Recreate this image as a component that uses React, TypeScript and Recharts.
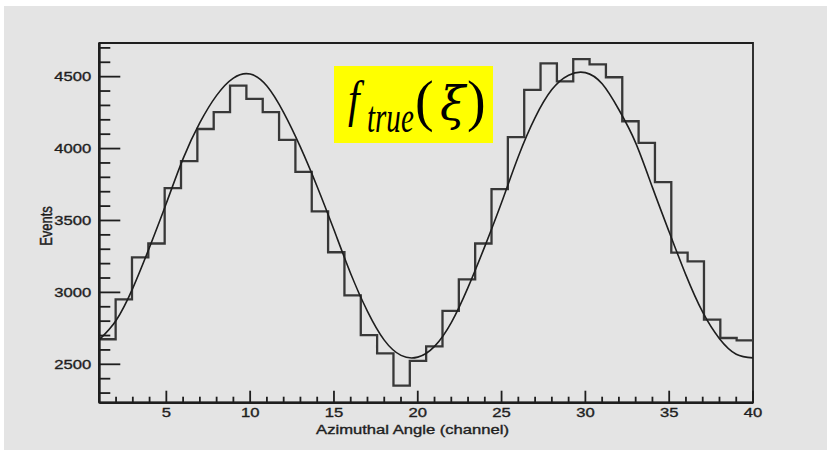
import React from 'react';
import { LineChart, Line, XAxis, YAxis, ReferenceArea } from 'recharts';

// Events per azimuthal channel: 40 equal-width bins spanning the 1–40 axis
const binCounts = [
  2674, 2951, 3243, 3340, 3725, 3912, 4136, 4253, 4438, 4345,
  4253, 4060, 3838, 3563, 3279, 2979, 2703, 2576, 2352, 2524,
  2625, 2871, 3090, 3340, 3718, 4079, 4408, 4593, 4467, 4622,
  4586, 4496, 4190, 4040, 3766, 3277, 3215, 2810, 2683, 2666,
];

// Fitted f_true(ξ) curve, sampled at every channel
const fitChannels = [
  1, 2, 3, 4, 5, 6, 7, 8, 9, 10,
  11, 12, 13, 14, 15, 16, 17, 18, 19, 20,
  21, 22, 23, 24, 25, 26, 27, 28, 29, 30,
  31, 32, 33, 34, 35, 36, 37, 38, 39, 40,
];
const fitValues = [
  2672, 2805, 3030, 3315, 3620, 3930, 4180, 4370, 4490, 4518,
  4435, 4250, 4010, 3735, 3435, 3130, 2868, 2668, 2562, 2550,
  2625, 2790, 3035, 3320, 3625, 3945, 4215, 4410, 4510, 4528,
  4450, 4270, 4040, 3730, 3420, 3120, 2862, 2678, 2570, 2545,
];

// Labelled axis ticks
const xTickLabels = [5, 10, 15, 20, 25, 30, 35, 40];
const yTickLabels = [2500, 3000, 3500, 4000, 4500];

const X_MIN = 1;
const X_MAX = 40;
const Y_MIN = 2233;
const Y_MAX = 4734;
const X_MINOR_STEP = 1;
const Y_MINOR_STEP = 100;

// Layout
const W = 831;
const H = 467;
const MARGIN = { top: 43, right: 78, bottom: 34.3, left: 39.3 };
const Y_AXIS_W = 60;
const X_AXIS_H = 30;
const PLOT_LEFT = MARGIN.left + Y_AXIS_W;
const PLOT_BOTTOM = H - MARGIN.bottom - X_AXIS_H;
const STRETCH = 1.33; // wide text face
const INK = '#1e1e1e';
const FONT = '"Liberation Sans", Arial, sans-serif';
const SERIF = '"Liberation Serif", "Times New Roman", serif';

const binWidth = (X_MAX - X_MIN) / binCounts.length;
const histData = binCounts
  .map((v, i) => ({ x: X_MIN + i * binWidth, y: v }))
  .concat([{ x: X_MAX, y: binCounts[binCounts.length - 1] }]);
const fitData = fitChannels.map((x, i) => ({ x, y: fitValues[i] }));

const xTicks: number[] = [];
for (let v = X_MIN + X_MINOR_STEP; v <= X_MAX; v += X_MINOR_STEP) xTicks.push(v);
const yTicks: number[] = [];
for (let v = Math.ceil(Y_MIN / Y_MINOR_STEP) * Y_MINOR_STEP; v <= Y_MAX; v += Y_MINOR_STEP) yTicks.push(v);

const labelStyle = {
  fontFamily: FONT,
  fontSize: 12.5,
  fill: INK,
  stroke: INK,
  strokeWidth: 0.35,
};

const XTick = (props: any) => {
  const { x, payload } = props;
  const v = payload.value;
  const major = xTickLabels.includes(v);
  return (
    <g>
      <line x1={x} x2={x} y1={PLOT_BOTTOM} y2={PLOT_BOTTOM - (major ? 12 : 6)} stroke={INK} strokeWidth={1.8} />
      {major && (
        <text
          transform={`translate(${x},${PLOT_BOTTOM + 14}) scale(${STRETCH},1)`}
          textAnchor="middle"
          {...labelStyle}
        >
          {v}
        </text>
      )}
    </g>
  );
};

const YTick = (props: any) => {
  const { y, payload } = props;
  const v = payload.value;
  const major = yTickLabels.includes(v);
  return (
    <g>
      <line x1={PLOT_LEFT} x2={PLOT_LEFT + (major ? 21 : 11)} y1={y} y2={y} stroke={INK} strokeWidth={1.8} />
      {major && (
        <text
          transform={`translate(${PLOT_LEFT - 8},${y + 4.5}) scale(${STRETCH},1)`}
          textAnchor="end"
          {...labelStyle}
        >
          {v}
        </text>
      )}
    </g>
  );
};

export default function App() {
  return (
    <div style={{ position: 'absolute', left: 0, top: 0, width: W, height: H, background: '#fff' }}>
      <div style={{ position: 'absolute', left: 4, top: 6, width: 823, height: 444, background: '#e4e4e4' }} />
      <div style={{ position: 'absolute', left: 0, top: 0 }}>
        <LineChart width={W} height={H} margin={MARGIN}>
          <XAxis
            type="number"
            dataKey="x"
            domain={[X_MIN, X_MAX]}
            ticks={xTicks}
            interval={0}
            tickLine={false}
            tick={(p: any) => <XTick {...p} />}
            height={X_AXIS_H}
            axisLine={{ stroke: INK, strokeWidth: 2.6 }}
            allowDataOverflow
          />
          <YAxis
            type="number"
            domain={[Y_MIN, Y_MAX]}
            ticks={yTicks}
            interval={0}
            tickLine={false}
            tick={(p: any) => <YTick {...p} />}
            width={Y_AXIS_W}
            axisLine={{ stroke: INK, strokeWidth: 2.6 }}
            allowDataOverflow
          />
          <ReferenceArea
            x1={X_MIN}
            x2={X_MAX}
            y1={Y_MIN}
            y2={Y_MAX}
            fill="none"
            stroke={INK}
            strokeWidth={1.8}
          />
          <Line
            data={histData}
            dataKey="y"
            type="stepAfter"
            stroke="#383838"
            strokeWidth={2.3}
            dot={false}
            activeDot={false}
            isAnimationActive={false}
          />
          <Line
            data={fitData}
            dataKey="y"
            type="natural"
            stroke="#1e1e1e"
            strokeWidth={1.6}
            dot={false}
            activeDot={false}
            isAnimationActive={false}
          />
        </LineChart>
      </div>
      <svg width={W} height={H} style={{ position: 'absolute', left: 0, top: 0, pointerEvents: 'none' }}>
        <text
          transform={`translate(412.5,434) scale(${STRETCH},1)`}
          textAnchor="middle"
          {...labelStyle}
        >
          Azimuthal Angle (channel)
        </text>
        <text
          transform={`translate(51.5,226) scale(${STRETCH},1) rotate(-90)`}
          textAnchor="middle"
          {...labelStyle}
          fontSize={13}
        >
          Events
        </text>
        <rect x={334} y={66} width={159} height={77} fill="#ffff00" />
        <text
          transform="translate(348,116.3) scale(0.83,1)"
          fontFamily={SERIF}
          fontStyle="italic"
          fontSize={50}
          fill="#000"
        >
          f
        </text>
        <text
          transform="translate(367,131.5) scale(0.66,1)"
          fontFamily={SERIF}
          fontStyle="italic"
          fontSize={44}
          fill="#000"
        >
          true
        </text>
        <text x={415} y={120} fontFamily={SERIF} fontSize={56} fill="#000">(</text>
        <text x={440} y={120} fontFamily='"DejaVu Serif", serif' fontStyle="italic" fontSize={46} fill="#000">ξ</text>
        <text x={467} y={120} fontFamily={SERIF} fontSize={56} fill="#000">)</text>
      </svg>
    </div>
  );
}
